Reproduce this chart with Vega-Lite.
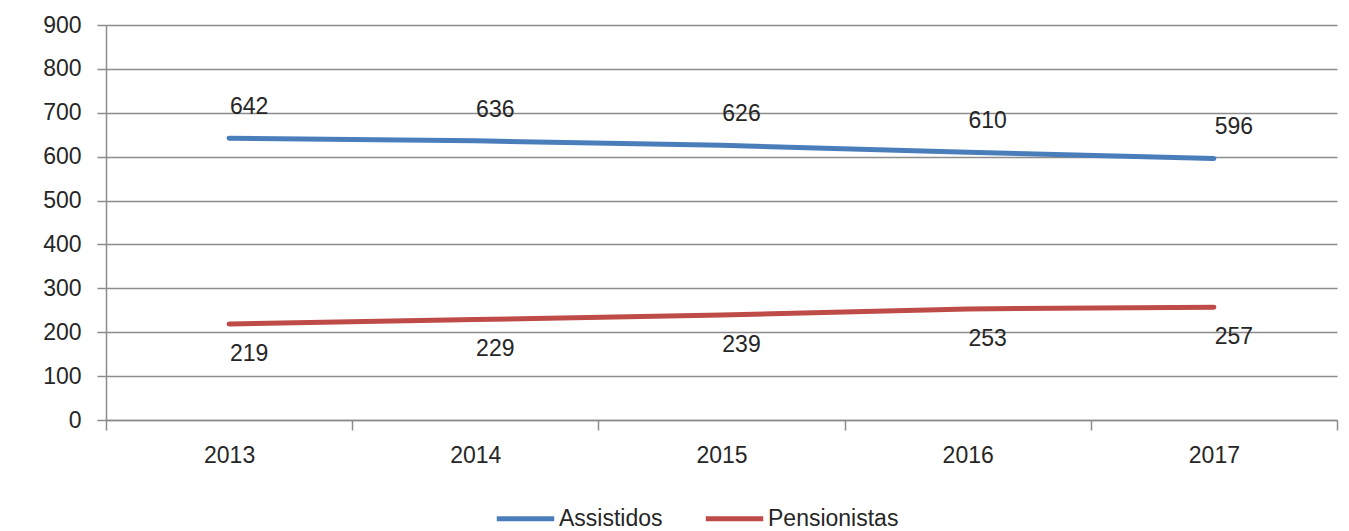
{
  "$schema": "https://vega.github.io/schema/vega-lite/v6.json",
  "width": 1231,
  "height": 395,
  "autosize": {"type": "none"},
  "padding": {"left": 106, "top": 25, "right": 12, "bottom": 111},
  "background": "white",
  "config": {
    "font": "Liberation Sans",
    "view": {"stroke": null},
    "axis": {
      "labelFont": "Liberation Sans",
      "labelFontSize": 23,
      "labelColor": "#262626",
      "domainColor": "#8c8c8c",
      "domainWidth": 1.5,
      "tickColor": "#8c8c8c",
      "tickWidth": 1.5,
      "gridColor": "#8c8c8c",
      "gridWidth": 1.5,
      "title": null
    }
  },
  "data": {
    "values": [
      {"year": "2013", "series": "Assistidos", "value": 642},
      {"year": "2014", "series": "Assistidos", "value": 636},
      {"year": "2015", "series": "Assistidos", "value": 626},
      {"year": "2016", "series": "Assistidos", "value": 610},
      {"year": "2017", "series": "Assistidos", "value": 596},
      {"year": "2013", "series": "Pensionistas", "value": 219},
      {"year": "2014", "series": "Pensionistas", "value": 229},
      {"year": "2015", "series": "Pensionistas", "value": 239},
      {"year": "2016", "series": "Pensionistas", "value": 253},
      {"year": "2017", "series": "Pensionistas", "value": 257}
    ]
  },
  "encoding": {
    "x": {
      "field": "year",
      "type": "ordinal",
      "scale": {"type": "band", "paddingInner": 0, "paddingOuter": 0},
      "axis": {
        "tickBand": "extent",
        "tickSize": 10,
        "labelAngle": 0,
        "labelPadding": 14,
        "grid": false
      }
    },
    "y": {
      "field": "value",
      "type": "quantitative",
      "scale": {"domain": [0, 900], "nice": false},
      "axis": {
        "values": [0, 100, 200, 300, 400, 500, 600, 700, 800, 900],
        "grid": true,
        "tickSize": 9,
        "labelPadding": 16
      }
    }
  },
  "layer": [
    {
      "mark": {"type": "line", "strokeWidth": 5, "strokeCap": "round"},
      "encoding": {
        "color": {
          "field": "series",
          "type": "nominal",
          "scale": {"domain": ["Assistidos", "Pensionistas"], "range": ["#4a7ebb", "#be4b48"]},
          "legend": {
            "title": null,
            "orient": "none",
            "direction": "horizontal",
            "legendX": 388,
            "legendY": 462,
            "padding": 0,
            "symbolType": "stroke",
            "symbolSize": 3300,
            "symbolStrokeWidth": 5,
            "labelFont": "Liberation Sans",
            "labelFontSize": 23,
            "labelColor": "#262626",
            "labelOffset": 2,
            "columnPadding": 32
          }
        }
      }
    },
    {
      "transform": [{"filter": "datum.series === 'Assistidos'"}],
      "mark": {"type": "text", "dx": 20, "dy": -31, "fontSize": 23, "font": "Liberation Sans", "color": "#262626"},
      "encoding": {"text": {"field": "value", "type": "quantitative"}}
    },
    {
      "transform": [{"filter": "datum.series === 'Pensionistas'"}],
      "mark": {"type": "text", "dx": 20, "dy": 30, "fontSize": 23, "font": "Liberation Sans", "color": "#262626"},
      "encoding": {"text": {"field": "value", "type": "quantitative"}}
    }
  ]
}
